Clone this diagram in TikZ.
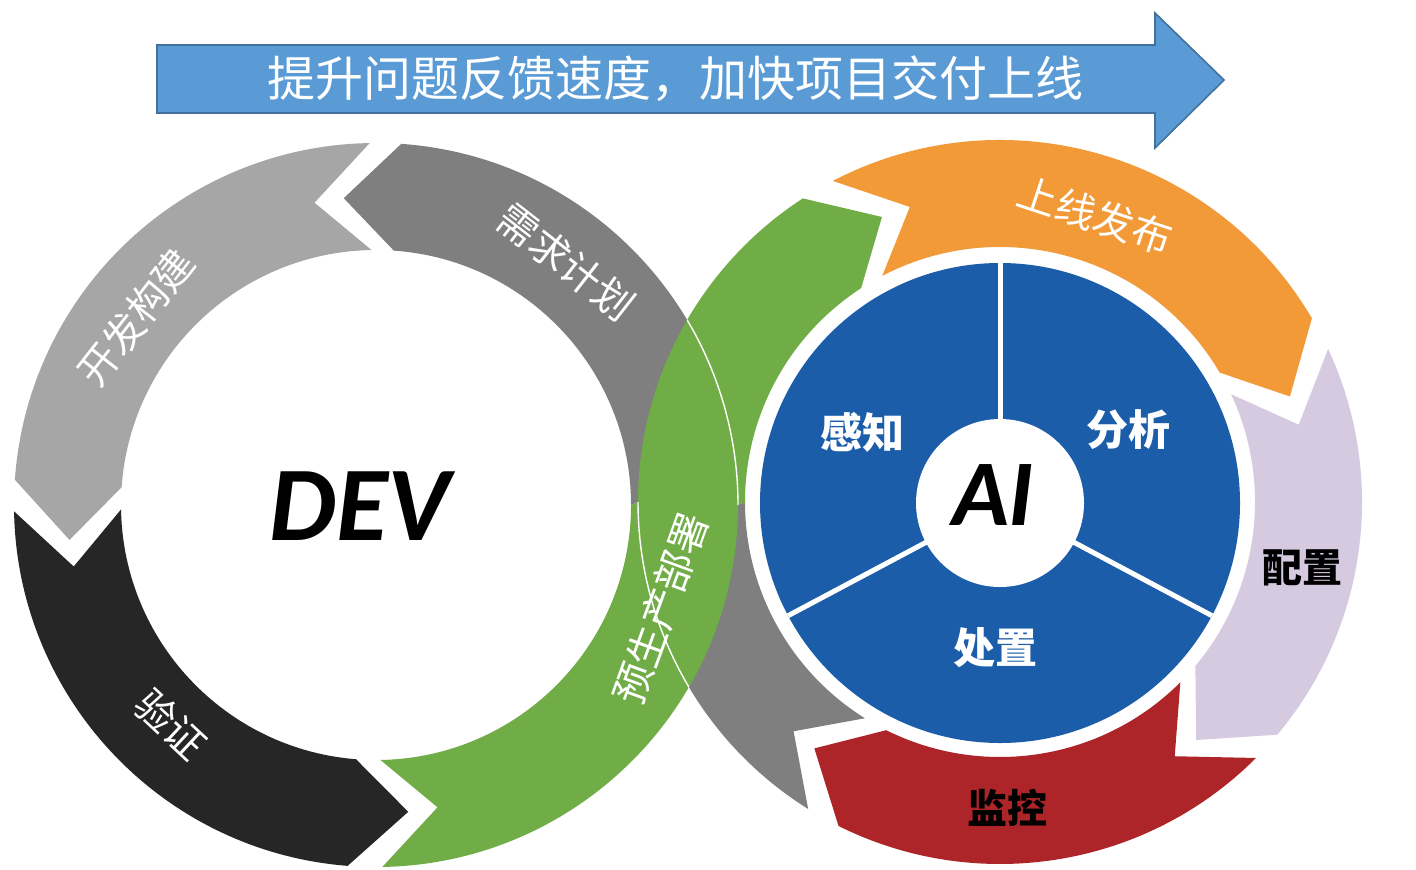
\documentclass[tikz,border=0pt]{standalone}
\usepackage{fontspec}
\newfontfamily\cjk{Noto Sans CJK SC}
\newfontfamily\devfont{Carlito}
\usetikzlibrary{calc}
\definecolor{cdgray}{HTML}{7F7F7F}
\definecolor{clgray}{HTML}{A6A6A6}
\definecolor{cblack}{HTML}{262626}
\definecolor{cgreen}{HTML}{70AD47}
\definecolor{corange}{HTML}{F29A38}
\definecolor{clav}{HTML}{D6CAE1}
\definecolor{cred}{HTML}{AE2529}
\definecolor{cblue}{HTML}{1C5DAA}
\definecolor{cbanner}{HTML}{5B9BD5}
\definecolor{cbannerb}{HTML}{41719C}
\def\Ro{362}
\def\Ri{255}
\def\Rm{308.5}
% chevron along a ring: #1 centre, #2 tail angle, #3 shoulder angle, #4 signed tip offset
\newcommand\chev[4]{($(#1)+(#2:\Ro)$) arc[start angle=#2,end angle=#3,radius=\Ro] -- ($(#1)+({#3+(#4)}:\Rm)$) -- ($(#1)+(#3:\Ri)$) arc[start angle=#3,end angle=#2,radius=\Ri] -- ($(#1)+({#2+(#4)}:\Rm)$) -- cycle}
\newcommand\greenpath{($(cL)+(271:\Ro)$) arc[start angle=271,end angle=360,radius=\Ro] -- ($(cR)+(180:\Ri)$) arc[start angle=180,end angle=123,radius=\Ri] -- ($(cR)+(112.5:\Rm)$) -- ($(cR)+(123:\Ro)$) arc[start angle=123,end angle=180,radius=\Ro] -- ($(cL)+(0:\Ri)$) arc[start angle=360,end angle=271,radius=\Ri] -- ($(cL)+(281.5:\Rm)$) -- cycle}
\begin{document}
\begin{tikzpicture}[x=0.5pt,y=0.5pt,
  ringlabel/.style={font=\cjk\fontsize{20}{24}\selectfont, text=white, inner sep=0pt},
  ailabel/.style={font=\cjk\bfseries\fontsize{21}{25}\selectfont, text=white, inner sep=0pt},
  darklabel/.style={font=\cjk\bfseries\fontsize{20}{24}\selectfont, text=black, inner sep=0pt},
  bigword/.style={font=\devfont\bfseries\itshape, text=black, inner sep=0pt, anchor=base}]
\useasboundingbox (0,0) rectangle (1416,869);
\fill[white] (0,0) rectangle (1416,869);
\coordinate (cL) at (376,364);
\coordinate (cR) at (1000,367);
\coordinate (cB) at (1000,366);

% banner arrow
\filldraw[fill=cbanner, draw=cbannerb, line width=0.8pt]
  (157,824) -- (1155,824) -- (1155,856) -- (1224,789) -- (1155,721) -- (1155,756) -- (157,756) -- cycle;
\node[font=\cjk\fontsize{24}{28}\selectfont, text=white, inner sep=0pt] (title) at (675,790) {提升问题反馈速度，加快项目交付上线};

% left ring
\fill[clgray] \chev{cL}{91}{176}{10.5};
\fill[cblack] \chev{cL}{181}{265.5}{10.5};
% dark grey S band
\fill[cdgray] ($(cR)+(238:\Ro)$) arc[start angle=238,end angle=180,radius=\Ro] -- ($(cL)+(0:\Ri)$) arc[start angle=0,end angle=86,radius=\Ri] -- ($(cL)+(96:\Rm)$) -- ($(cL)+(86:\Ro)$) arc[start angle=86,end angle=0,radius=\Ro] -- ($(cR)+(180:\Ri)$) arc[start angle=180,end angle=238,radius=\Ri] -- ($(cR)+(228:\Rm)$) -- cycle;
% green S band
\fill[cgreen] \greenpath;
\begin{scope}
  \clip \greenpath;
  \draw[white, line width=0.7pt] ($(cL)+(0:\Ro)$) arc[start angle=0,end angle=40,radius=\Ro];
  \draw[white, line width=0.7pt] ($(cR)+(180:\Ro)$) arc[start angle=180,end angle=220,radius=\Ro];
\end{scope}
% right ring
\fill[corange] \chev{cR}{117.5}{30.5}{-10.5};
\fill[clav] \chev{cR}{25}{-40}{-10.5};
\fill[cred] \chev{cR}{-45}{-116.5}{-10.5};

% AI wheel
\fill[cblue] (cB) circle[radius=240];
\foreach \a in {90,-28,208} \draw[white, line width=2.5pt] (cB) -- ($(cB)+(\a:240)$);
\fill[white] (cB) circle[radius=84];

% ring labels
\node[ringlabel, rotate=-38] (lreq) at ($(cL)+(52:\Rm)$) {需求计划};
\node[ringlabel, rotate=52] (ldev) at ($(cL)+(142:305)$) {开发构建};
\node[ringlabel, rotate=-43] (lver) at ($(cL)+(227:300)$) {验证};
\node[ringlabel, rotate=70] (lpre) at ($(cL)+(-20:303)$) {预生产部署};
\node[ringlabel, rotate=-18.3] (lrel) at ($(cR)+(71.7:302)$) {上线发布};
\node[darklabel] (lcfg) at (1302,301) {配置};
\node[darklabel] (lmon) at (1007,61) {监控};
\node[ailabel] (lsense) at (862,437) {感知};
\node[ailabel] (lana) at (1128,439) {分析};
\node[ailabel] (lact) at (995,221) {处置};

\node[bigword, font=\devfont\bfseries\itshape\fontsize{53}{60}\selectfont] (dev) at (360,329) {DEV};
\node[bigword, font=\devfont\bfseries\itshape\fontsize{47}{54}\selectfont] (ai) at (993,344) {AI};
\end{tikzpicture}
\end{document}
